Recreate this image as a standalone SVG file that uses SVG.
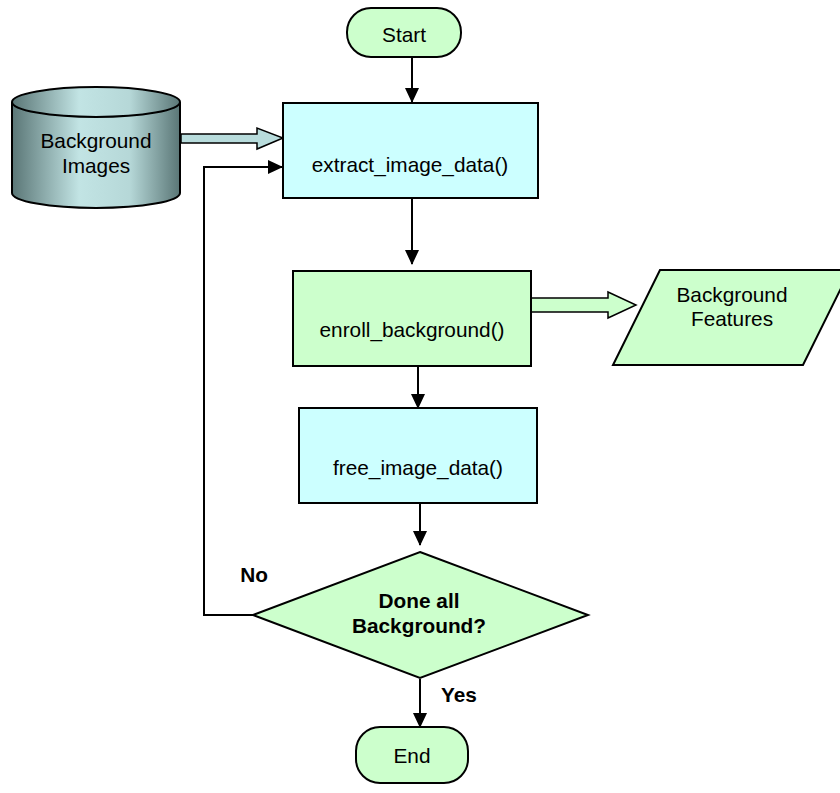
<svg xmlns="http://www.w3.org/2000/svg" width="840" height="793" viewBox="0 0 840 793">
<style>
.t{font-family:"Liberation Sans",Arial,sans-serif;font-size:20.8px;fill:#000;text-anchor:middle}
.b{font-weight:bold}
.n{stroke:#000;stroke-width:2}
.c{fill:#ccffff}
.g{fill:#ccffcc}
.l{fill:none;stroke:#000;stroke-width:2}
</style>
<defs>
<marker id="ah" markerUnits="userSpaceOnUse" markerWidth="16" markerHeight="16" viewBox="0 0 16 16" refX="14" refY="8" orient="auto">
<path d="M0,1 L15,8 L0,15 Z" fill="#000"/>
</marker>
<linearGradient id="cyl" x1="0" y1="0" x2="1" y2="0">
<stop offset="0" stop-color="#5a7676"/>
<stop offset="0.4" stop-color="#c2e4e4"/>
<stop offset="0.7" stop-color="#b6d8d8"/>
<stop offset="1" stop-color="#5a7676"/>
</linearGradient>
</defs>
<g id="connectors">
<line class="l" x1="412" y1="57" x2="412" y2="102" marker-end="url(#ah)"/>
<line class="l" x1="412" y1="198" x2="412" y2="264" marker-end="url(#ah)"/>
<line class="l" x1="418" y1="366" x2="418" y2="408" marker-end="url(#ah)"/>
<line class="l" x1="420" y1="503" x2="420" y2="545" marker-end="url(#ah)"/>
<line class="l" x1="420" y1="679" x2="420" y2="727" marker-end="url(#ah)"/>
<polyline class="l" points="253,615 204,615 204,167 282,167" marker-end="url(#ah)"/>
<path d="M181,134 L257,134 L257,128 L283,138 L257,149 L257,143 L181,143 Z" fill="#b8dcdc" stroke="#000" stroke-width="1.5" stroke-linejoin="miter"/>
<path d="M531,298 L608,298 L608,292 L636,305 L608,318 L608,312 L531,312 Z" fill="#ccffcc" stroke="#000" stroke-width="1.5"/>
<text class="t b" x="254" y="582">No</text>
<text class="t b" x="459" y="702">Yes</text>
</g>
<g id="start">
<rect class="n g" x="347" y="8" width="114" height="49" rx="24" ry="24"/>
<text class="t" x="404" y="42">Start</text>
</g>
<g id="bgimages">
<path d="M12,102 L12,193 A84,15 0 0 0 180,193 L180,102" fill="url(#cyl)" stroke="#000" stroke-width="2"/>
<ellipse cx="96" cy="102" rx="84" ry="15" fill="url(#cyl)" stroke="#000" stroke-width="2"/>
<text class="t" x="96" y="148">Background</text>
<text class="t" x="96" y="173">Images</text>
</g>
<g id="extract">
<rect class="n c" x="283" y="103" width="255" height="95"/>
<text class="t" x="410" y="172">extract_image_data()</text>
</g>
<g id="enroll">
<rect class="n g" x="293" y="271" width="238" height="95"/>
<text class="t" x="412" y="337">enroll_background()</text>
</g>
<g id="bgfeatures">
<polygon class="n g" points="660,270 850,270 803,365 613,365"/>
<text class="t" x="732" y="302">Background</text>
<text class="t" x="732" y="326">Features</text>
</g>
<g id="free">
<rect class="n c" x="299" y="408" width="238" height="95"/>
<text class="t" x="418" y="475">free_image_data()</text>
</g>
<g id="decision">
<polygon class="n g" points="420,552 588,615 420,678 253,615"/>
<text class="t b" x="419" y="608">Done all</text>
<text class="t b" x="419" y="633">Background?</text>
</g>
<g id="end">
<rect class="n g" x="356" y="727" width="112" height="56" rx="24" ry="24"/>
<text class="t" x="412" y="763">End</text>
</g>
</svg>
